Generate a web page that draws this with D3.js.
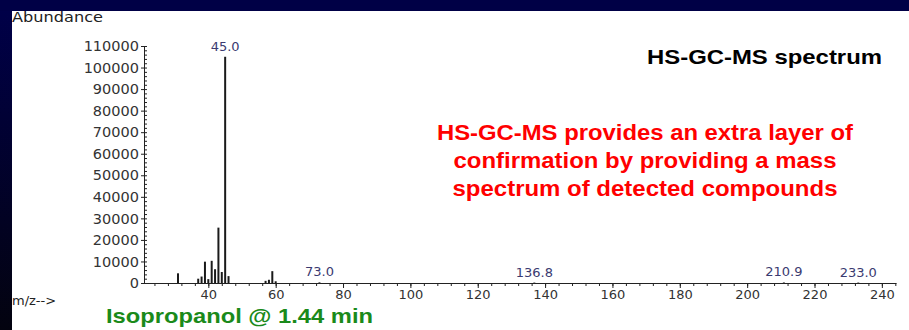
<!DOCTYPE html>
<html>
<head>
<meta charset="utf-8">
<script src="https://cdn.jsdelivr.net/npm/d3@7"></script>
<style>
  html, body { margin: 0; padding: 0; background: #000046; }
  svg { display: block; }
</style>
</head>
<body>
<svg width="909" height="330"></svg>
<script>
// peaks (m/z, abundance)
const mzValues = [31, 37, 38, 39, 40, 41, 42, 43, 44, 45, 46, 57, 58, 59, 60, 73, 136.8, 210.9, 233];
const abundances = [4500, 2000, 3000, 9900, 1800, 10300, 6400, 25700, 5100, 105000, 3200, 1000, 1500, 5500, 800, 300, 200, 250, 200];
const labelledPeaks = [45.0, 73.0, 136.8, 210.9, 233.0];
const yTicks = [0, 10000, 20000, 30000, 40000, 50000, 60000, 70000, 80000, 90000, 100000, 110000];
const xTicks = [40, 60, 80, 100, 120, 140, 160, 180, 200, 220, 240];
const noteLines = ["HS-GC-MS provides an extra layer of", "confirmation by providing a mass", "spectrum of detected compounds"];

const svg = d3.select("svg");
const FONT = "'DejaVu Sans', sans-serif";
const BOLD = "'Liberation Sans', Arial, sans-serif";

// slide background
const defs = svg.append("defs");
const edge = defs.append("linearGradient").attr("id", "edge").attr("x1", 0).attr("y1", 0).attr("x2", 0).attr("y2", 1);
edge.append("stop").attr("offset", "0%").attr("stop-color", "#000048");
edge.append("stop").attr("offset", "100%").attr("stop-color", "#03030f");

svg.append("rect").attr("width", 909).attr("height", 330).attr("fill", "#000046");
svg.append("rect").attr("x", 0).attr("y", 11).attr("width", 12).attr("height", 319).attr("fill", "url(#edge)");
svg.append("rect").attr("x", 12).attr("y", 11).attr("width", 897).attr("height", 319).attr("fill", "#ffffff");

const x = d3.scaleLinear().domain([20.9, 244.2]).range([144, 896]);
const y = d3.scaleLinear().domain([0, 110000]).range([283, 46]);

// y axis
const yAxis = svg.append("g")
  .attr("transform", "translate(144,0)")
  .call(d3.axisLeft(y).tickValues(yTicks).tickFormat(d3.format("d")).tickSize(3).tickPadding(2).tickSizeOuter(0));
yAxis.selectAll("text").attr("font-family", FONT).attr("font-size", 14.5).attr("fill", "#333");
svg.append("g")
  .attr("transform", "translate(144,0)")
  .call(d3.axisRight(y).tickValues(d3.range(0, 110001, 2000)).tickFormat("").tickSize(3).tickSizeOuter(0))
  .select(".domain").remove();

// x axis
const xAxis = svg.append("g")
  .attr("transform", "translate(0,283)")
  .call(d3.axisBottom(x).tickValues(xTicks).tickSize(5).tickPadding(2).tickSizeOuter(0));
xAxis.selectAll("text").attr("font-family", FONT).attr("font-size", 13).attr("fill", "#333");
svg.append("g")
  .attr("transform", "translate(0,283)")
  .call(d3.axisBottom(x).tickValues(d3.range(24, 245, 4)).tickFormat("").tickSize(3).tickSizeOuter(0))
  .select(".domain").remove();
svg.selectAll(".domain, .tick line").attr("stroke", "#222");

// peaks
const peaks = mzValues.map((m, i) => ({ mz: m, ab: abundances[i] }));
svg.append("g").selectAll("line")
  .data(peaks)
  .join("line")
  .attr("x1", d => x(d.mz)).attr("x2", d => x(d.mz))
  .attr("y1", y(0)).attr("y2", d => y(d.ab))
  .attr("stroke", "#1a1a1a")
  .attr("stroke-width", 2);

svg.append("g").selectAll("text")
  .data(labelledPeaks)
  .join("text")
  .attr("x", d => x(d))
  .attr("y", d => y(peaks.find(p => p.mz === d).ab) - 6)
  .attr("text-anchor", "middle")
  .attr("font-family", FONT).attr("font-size", 13)
  .attr("fill", "#3a3a70")
  .text(d => d.toFixed(1));

// captions
svg.append("text").attr("x", 12).attr("y", 22)
  .attr("font-family", FONT).attr("font-size", 13.5).attr("fill", "#222")
  .attr("textLength", 91).attr("lengthAdjust", "spacingAndGlyphs")
  .text("Abundance");
svg.append("text").attr("x", 12).attr("y", 305)
  .attr("font-family", FONT).attr("font-size", 13).attr("fill", "#222")
  .text("m/z-->");

svg.append("text").attr("x", 106).attr("y", 323)
  .attr("font-family", BOLD).attr("font-weight", "bold").attr("font-size", 21).attr("fill", "#1a8a1a")
  .attr("textLength", 267).attr("lengthAdjust", "spacingAndGlyphs")
  .text("Isopropanol @ 1.44 min");

svg.append("text").attr("x", 647).attr("y", 64)
  .attr("font-family", BOLD).attr("font-weight", "bold").attr("font-size", 21).attr("fill", "#000")
  .attr("textLength", 235).attr("lengthAdjust", "spacingAndGlyphs")
  .text("HS-GC-MS spectrum");

const noteWidths = [416, 383, 385];
svg.append("g").selectAll("text")
  .data(noteLines)
  .join("text")
  .attr("x", 645)
  .attr("y", (d, i) => 140 + i * 28)
  .attr("text-anchor", "middle")
  .attr("font-family", BOLD).attr("font-weight", "bold").attr("font-size", 22).attr("fill", "#ff0000")
  .attr("textLength", (d, i) => noteWidths[i]).attr("lengthAdjust", "spacingAndGlyphs")
  .text(d => d);
</script>
</body>
</html>
